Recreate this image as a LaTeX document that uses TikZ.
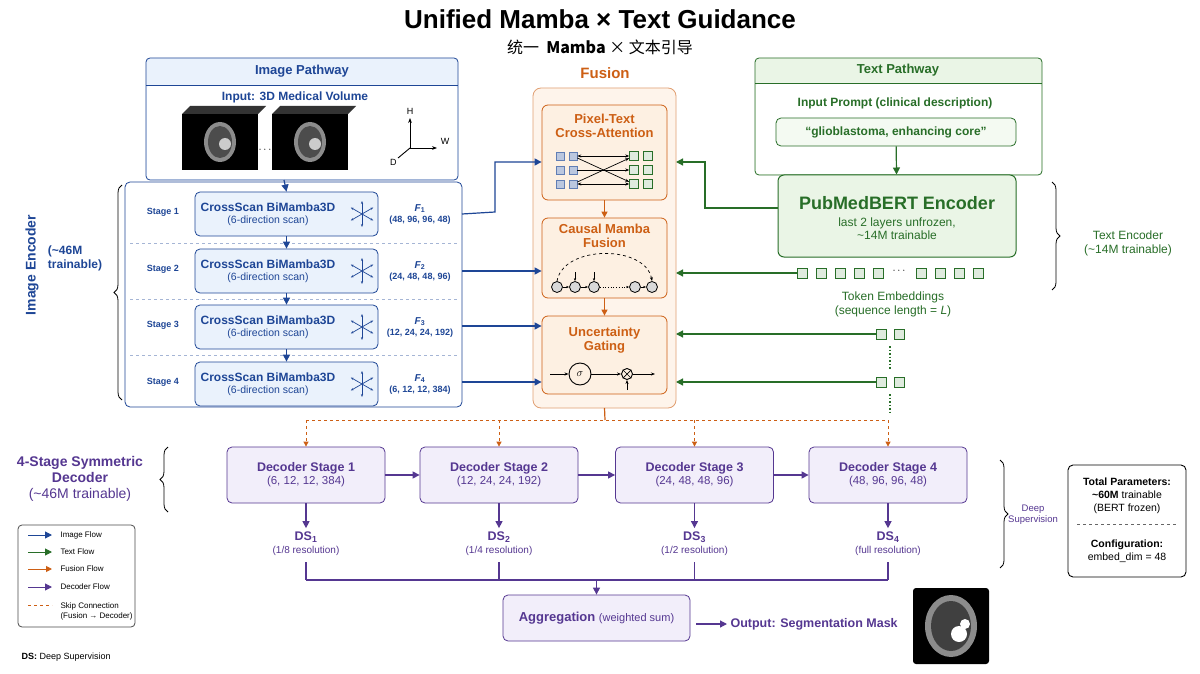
\documentclass[tikz,border=0pt]{standalone}
\usepackage{fontspec}
\setmainfont{Liberation Sans}
\newfontfamily\cjk{Noto Sans CJK SC}
\usetikzlibrary{arrows.meta,decorations.pathreplacing,calc}
\definecolor{imgblue}{RGB}{30,70,150}
\definecolor{imgfill}{RGB}{234,242,252}
\definecolor{txtgreen}{RGB}{40,110,40}
\definecolor{txtfill}{RGB}{234,245,230}
\definecolor{fusorange}{RGB}{205,95,20}
\definecolor{fusfill}{RGB}{253,240,226}
\definecolor{decpurple}{RGB}{85,55,145}
\definecolor{decfill}{RGB}{242,238,250}
\tikzset{
  stagebox/.style={draw=imgblue,fill=imgfill,rounded corners=5pt,line width=0.8pt},
  fusbox/.style={draw=fusorange,fill=fusfill,rounded corners=6pt,line width=0.8pt},
  decbox/.style={draw=decpurple,fill=decfill,rounded corners=5pt,line width=0.8pt},
  imgarrow/.style={draw=imgblue,line width=1.2pt,-{Triangle[length=7pt,width=7pt]}},
  txtarrow/.style={draw=txtgreen,line width=1.2pt,-{Triangle[length=7pt,width=7pt]}},
  fusarrow/.style={draw=fusorange,line width=1.2pt,-{Triangle[length=6pt,width=6pt]}},
  decarrow/.style={draw=decpurple,line width=1.2pt,-{Triangle[length=7pt,width=7pt]}},
  skiparrow/.style={draw=fusorange,dashed,line width=0.8pt,-{Triangle[length=5pt,width=5pt]}},
  bluesq/.style={draw=imgblue!70,fill=imgblue!30,minimum size=8pt,inner sep=0pt},
  greensq/.style={draw=txtgreen,fill=txtfill!70!txtgreen!40,minimum size=10pt,inner sep=0pt},
  cell/.style={circle,draw,fill=black!15,minimum size=11pt,inner sep=0pt,line width=0.8pt},
}
\newcommand{\scanstar}[1]{%
  \foreach \a in {30,90,150,210,270,330}
    \draw[imgblue,line width=0.7pt,-{Stealth[length=3pt]}] (#1) -- ++(\a:13);}
\newcommand{\brainslice}[1]{%
  \fill[black] (#1) ++(-38,-28) rectangle ++(76,56);
  \fill[black!45] (#1) ellipse (16 and 20);
  \fill[black!70] (#1) ellipse (12 and 16);
  \fill[black!20] (#1) ++(5,2) circle (6);}
\begin{document}
\begin{tikzpicture}[x=1pt,y=-1pt,font=\fontsize{11}{13}\selectfont]
\useasboundingbox (0,0) rectangle (1200,674);
\fill[white] (0,0) rectangle (1200,674);

% title
\node (title) at (600,19) {\fontsize{26}{28}\selectfont\bfseries Unified Mamba × Text Guidance};
\node (subtitle) at (600,47) {\fontsize{16}{18}\selectfont\cjk 统一\ \ \textbf{Mamba} × 文本引导};

% image pathway
\draw[draw=imgblue,fill=imgfill,rounded corners=4pt,line width=0.8pt] (146,58) rectangle (458,180);
\fill[white,rounded corners=3pt] (147,85) rectangle (457,179);
\draw[imgblue,line width=0.8pt] (146,85) -- (458,85);
\node[text=imgblue,font=\fontsize{13}{15}\selectfont\bfseries] (imgtitle) at (302,71) {Image Pathway};
\node[text=imgblue,font=\fontsize{12}{14}\selectfont\bfseries] (imginput) at (295,97) {Input: 3D Medical Volume};
\brainslice{220,142}
\fill[black!80] (182,114) -- (190,106) -- (266,106) -- (258,114) -- cycle;
\brainslice{310,142}
\fill[black!80] (272,114) -- (280,106) -- (356,106) -- (348,114) -- cycle;
\node (voldots) at (265,150) {$\cdots$};
\coordinate (axo) at (410,148);
\draw[line width=0.9pt,-{Stealth[length=5pt]}] (axo) -- ++(0,-30) node[above] (axh) {\small H};
\draw[line width=0.9pt,-{Stealth[length=5pt]}] (axo) -- ++(27,0) node[above right] (axw) {\small W};
\draw[line width=0.9pt] (axo) -- ++(-12,10) node[below left,inner sep=1pt] (axd) {\small D};

% image encoder
\draw[draw=imgblue,rounded corners=5pt,line width=0.8pt] (125,182) rectangle (462,407);
\foreach \y in {243,299,355}
  \draw[imgblue!40,dashed,line width=0.8pt] (130,\y) -- (458,\y);
\foreach \i/\y/\f in {1/214/{(48, 96, 96, 48)},2/271/{(24, 48, 48, 96)},3/327/{(12, 24, 24, 192)},4/384/{(6, 12, 12, 384)}}{
  \node[stagebox,minimum width=183pt,minimum height=44pt] (stage\i) at (286.5,\y) {};
  \node[text=imgblue,align=center] (stagetxt\i) at (268,\y) {\fontsize{12}{14}\selectfont\bfseries CrossScan BiMamba3D\\[-1pt] \fontsize{10.5}{12}\selectfont(6-direction scan)};
  \scanstar{362,\y}
  \node[text=imgblue,font=\small\bfseries] (stagelab\i) at (163,\y-2) {Stage \i};
  \node[text=imgblue,align=center,font=\fontsize{9}{11}\selectfont\bfseries] (feat\i) at (420,\y) {\normalsize\textit{F}\textsubscript{\i}\\ \f};
}
\draw[imgarrow] (284,180) -- (stage1.north);
\draw[imgarrow] (stage1.south) -- (stage2.north);
\draw[imgarrow] (stage2.south) -- (stage3.north);
\draw[imgarrow] (stage3.south) -- (stage4.north);
\draw[decorate,decoration={brace,amplitude=8pt},line width=0.8pt] (122,400) -- (122,185);
\node[text=imgblue,rotate=90,font=\fontsize{14}{16}\selectfont\bfseries] (enclab) at (32,265) {Image Encoder};
\node[text=imgblue,align=left,font=\fontsize{12}{14}\selectfont\bfseries] (encpar) at (75,258) {(\textasciitilde46M\\ trainable)};

% fusion
\node[text=fusorange,font=\fontsize{15}{17}\selectfont\bfseries] (fustitle) at (605,73) {Fusion};
\draw[draw=fusorange!60,fill=fusfill!70,rounded corners=8pt,line width=0.8pt] (533,88) rectangle (676,408);
\node[fusbox,minimum width=125pt,minimum height=95pt] (xattn) at (604.5,152.5) {};
\node[fusbox,minimum width=125pt,minimum height=80pt] (cmamba) at (604.5,258) {};
\node[fusbox,minimum width=125pt,minimum height=78pt] (ugate) at (604.5,355) {};
\node[text=fusorange,align=center,font=\fontsize{13}{14}\selectfont\bfseries] (xattnlab) at (604.5,126) {Pixel-Text\\Cross-Attention};
\node[text=fusorange,align=center,font=\fontsize{13}{14}\selectfont\bfseries] (cmambalab) at (604.5,236) {Causal Mamba\\Fusion};
\node[text=fusorange,align=center,font=\fontsize{13}{14}\selectfont\bfseries] (ugatelab) at (604.5,340) {Uncertainty\\Gating};
\foreach \r/\y in {1/156,2/170,3/184}{
  \node[bluesq] (bq\r a) at (560,\y) {};
  \node[bluesq] (bq\r b) at (573,\y) {};
  \node[greensq,minimum size=9pt] (gq\r a) at (634,\y) {};
  \node[greensq,minimum size=9pt] (gq\r b) at (648,\y) {};
}
\draw[line width=0.7pt,{Stealth[length=4pt]}-{Stealth[length=4pt]}] (bq1b) -- (gq1a);
\draw[line width=0.7pt,-{Stealth[length=4pt]}] (bq1b) -- (gq3a);
\draw[line width=0.7pt,-{Stealth[length=4pt]}] (bq2b) -- (gq2a);
\draw[line width=0.7pt,-{Stealth[length=4pt]}] (bq3b) -- (gq1a);
\draw[line width=0.7pt,{Stealth[length=4pt]}-{Stealth[length=4pt]}] (bq3b) -- (gq3a);
\foreach \i/\x in {1/557,2/575,3/594,4/635,5/652}
  \node[cell] (c\i) at (\x,287) {};
\draw[line width=0.7pt,-{Stealth[length=3pt]}] (c1) -- (c2);
\draw[line width=0.7pt,-{Stealth[length=3pt]}] (c2) -- (c3);
\draw[line width=0.7pt,dotted,-{Stealth[length=3pt]}] (c3) -- (c4);
\draw[line width=0.7pt,-{Stealth[length=3pt]}] (c4) -- (c5);
\draw[line width=0.7pt,dashed,-{Stealth[length=4pt]}] (c1.north) to[out=80,in=100] (c5.north);
\draw[line width=0.7pt,-{Stealth[length=3pt]}] (c2.north) ++(0,-9) -- (c2.north);
\draw[line width=0.7pt,-{Stealth[length=3pt]}] (c3.north) ++(0,-9) -- (c3.north);
\node[circle,draw,line width=0.9pt,minimum size=22pt,inner sep=0pt] (sigma) at (580,374) {$\sigma$};
\node[circle,draw,line width=0.9pt,minimum size=11pt,inner sep=0pt] (gmul) at (627,374) {};
\draw[line width=0.7pt] (gmul.45) -- (gmul.225) (gmul.135) -- (gmul.315);
\coordinate (gin) at (550,374);
\coordinate (gout) at (655,374);
\coordinate (gbot) at (627,390);
\draw[line width=0.8pt,-{Stealth[length=4pt]}] (gin) -- (sigma);
\draw[line width=0.8pt,-{Stealth[length=4pt]}] (sigma) -- (gmul);
\draw[line width=0.8pt,-{Stealth[length=4pt]}] (gmul) -- (gout);
\draw[line width=0.8pt,-{Stealth[length=4pt]}] (gbot) -- (gmul);
\draw[fusarrow] (xattn) -- (cmamba);
\draw[fusarrow] (cmamba) -- (ugate);

% text pathway
\draw[draw=txtgreen,fill=txtfill,rounded corners=4pt,line width=0.8pt] (755,58) rectangle (1042,175);
\fill[white,rounded corners=3pt] (756,83) rectangle (1041,174);
\draw[txtgreen,line width=0.8pt] (755,83) -- (1042,83);
\node[text=txtgreen,font=\fontsize{13}{15}\selectfont\bfseries] (txttitle) at (898,70) {Text Pathway};
\node[text=txtgreen,font=\fontsize{12}{14}\selectfont\bfseries] (txtinput) at (895,103) {Input Prompt (clinical description)};
\node[draw=txtgreen,fill=txtfill!50,rounded corners=5pt,line width=0.8pt,minimum width=240pt,minimum height=28pt,font=\fontsize{12}{14}\selectfont\bfseries,text=txtgreen] (prompt) at (896,132) {``glioblastoma, enhancing core''};
\node[draw=txtgreen,fill=txtfill,rounded corners=6pt,line width=1pt,minimum width=238pt,minimum height=82pt] (bert) at (897,216) {};
\node[text=txtgreen,align=center] (bertlab) at (897,218) {\fontsize{18}{20}\selectfont\bfseries PubMedBERT Encoder\\[4pt]\fontsize{12}{15}\selectfont last 2 layers unfrozen,\\\fontsize{12}{14}\selectfont\textasciitilde14M trainable};
\draw[txtarrow] (prompt) -- (bert);
\foreach \i/\x in {1/802,2/821,3/840,4/859,5/878,6/921,7/940,8/959,9/978}
  \node[greensq] (tok\i) at (\x,273) {};
\node (tokdots) at (899,271) {$\cdots$};
\node[text=txtgreen,align=center,font=\fontsize{12}{14}\selectfont] (toklab) at (893,304) {Token Embeddings\\(sequence length = \textit{L})};
\node[greensq] (tq1a) at (881,334) {};
\node[greensq] (tq1b) at (899,334) {};
\node[greensq] (tq2a) at (881,382) {};
\node[greensq] (tq2b) at (899,382) {};
\draw[txtgreen,dotted,line width=1.5pt] (890,346) -- (890,370);
\draw[txtgreen,dotted,line width=1.5pt] (890,394) -- (890,412);
\draw[decorate,decoration={brace,amplitude=8pt},line width=0.8pt] (1052,182) -- (1052,290);
\node[text=txtgreen,align=center,font=\fontsize{12}{14}\selectfont] (txtenc) at (1128,243) {Text Encoder\\(\textasciitilde14M trainable)};

% image to fusion
\draw[imgarrow] (stage1.east -| 462,212) -- (495,212) |- (xattn.west |- 0,162);
\draw[imgarrow] (462,271) -- (cmamba.west |- 0,271);
\draw[imgarrow] (462,326) -- (ugate.west |- 0,326);
\draw[imgarrow] (462,382) -- (ugate.west |- 0,382);
% text to fusion
\draw[txtarrow] (bert.west |- 0,208) -- (705,208) |- (676,162);
\draw[txtarrow] (tok1.west) -- (676,273);
\draw[txtarrow] (tq1a.west) -- (676,334);
\draw[txtarrow] (tq2a.west) -- (676,382);

% decoder
\foreach \i/\x/\f/\r in {1/306/{(6, 12, 12, 384)}/{1/8 resolution},2/499/{(12, 24, 24, 192)}/{1/4 resolution},3/694.5/{(24, 48, 48, 96)}/{1/2 resolution},4/888/{(48, 96, 96, 48)}/{full resolution}}{
  \node[decbox,minimum width=158pt,minimum height=56pt] (dec\i) at (\x,475) {};
  \node[text=decpurple,align=center] (declab\i) at (\x,475) {\fontsize{12.5}{15}\selectfont\bfseries Decoder Stage \i\\\fontsize{11.5}{13}\selectfont \f};
  \node[text=decpurple,font=\fontsize{12.5}{14}\selectfont\bfseries] (ds\i) at (\x,537) {DS\textsubscript{\i}};
  \node[text=decpurple,font=\fontsize{10}{12}\selectfont] (dsres\i) at (\x,551) {(\r)};
  \draw[decarrow] (dec\i.south) -- (ds\i.north);
  \coordinate (skip\i) at (\x,420);
  \draw[skiparrow] (skip\i) -- (dec\i.north);
  \draw[decpurple,line width=1.2pt] (\x,562) -- (\x,580);
}
\draw[fusarrow,-] (ugate.south |- 0,408) -- (605,420);
\draw[fusorange,dashed,line width=0.8pt] (skip1) -- (skip4);
\draw[decarrow] (dec1) -- (dec2);
\draw[decarrow] (dec2) -- (dec3);
\draw[decarrow] (dec3) -- (dec4);
\draw[decpurple,line width=1.2pt] (306,580) -- (888,580);
\node[decbox,minimum width=187pt,minimum height=46pt] (aggr) at (596.5,618) {};
\node[text=decpurple] (aggrlab) at (596.5,618) {\fontsize{13}{15}\selectfont\bfseries Aggregation \fontsize{11}{13}\selectfont\mdseries(weighted sum)};
\draw[decarrow] (596.5,580) -- (aggr.north);
\node[text=decpurple,font=\fontsize{12.5}{15}\selectfont\bfseries,anchor=west] (output) at (727,624) {Output: Segmentation Mask};
\draw[decarrow] (aggr.east |- 0,624) ++(6,0) -- (output.west);
\node[fill=black,rounded corners=3pt,minimum size=76pt] (mask) at (951,626) {};
\fill[black!45] (mask) ellipse (26 and 31);
\fill[black!75] (mask) ellipse (20 and 25);
\fill[white] (mask) ++(8,8) circle (8);
\fill[white] (mask) ++(14,-2) circle (5);
\node[text=decpurple,align=center,font=\fontsize{14}{16}\selectfont\bfseries] (declab) at (80,479) {4-Stage Symmetric\\Decoder\\\mdseries(\textasciitilde46M trainable)};
\draw[decorate,decoration={brace,amplitude=8pt},line width=0.8pt] (168,512) -- (168,447);
\draw[decorate,decoration={brace,amplitude=8pt},line width=0.8pt] (1000,460) -- (1000,568);
\node[text=decpurple,align=center,font=\fontsize{9.5}{11}\selectfont] (deepsup) at (1033,515) {Deep\\Supervision};

% legend
\draw[rounded corners=4pt,line width=0.8pt,black!70] (18,525) rectangle (135,627);
\foreach \s/\c/\y/\t in {imgarrow/imgblue/535/Image Flow,txtarrow/txtgreen/552/Text Flow,fusarrow/fusorange/569/Fusion Flow,decarrow/decpurple/587/Decoder Flow}{
  \draw[\s,line width=1pt] (28,\y) -- (52,\y);
  \node[anchor=west,font=\fontsize{8}{10}\selectfont] (leg\c) at (57,\y) {\t};
}
\draw[fusorange,dashed,line width=0.8pt] (28,605) -- (52,605);
\node[anchor=north west,align=left,font=\fontsize{8}{10}\selectfont] (legskip) at (57,599) {Skip Connection\\(Fusion → Decoder)};
\node[anchor=west,font=\fontsize{9}{11}\selectfont] (dsnote) at (18,657) {\textbf{DS:} Deep Supervision};

% totals
\draw[rounded corners=5pt,line width=0.9pt] (1068,465) rectangle (1186,577);
\node[align=center,font=\fontsize{10.5}{13}\selectfont] (totals) at (1127,496) {\textbf{Total Parameters:}\\\textbf{\textasciitilde60M} trainable\\(BERT frozen)};
\draw[dashed,black!60,line width=0.8pt] (1077,524) -- (1177,524);
\node[align=center,font=\fontsize{10.5}{13}\selectfont] (config) at (1127,551) {\textbf{Configuration:}\\embed\_dim = 48};
\end{tikzpicture}
\end{document}
